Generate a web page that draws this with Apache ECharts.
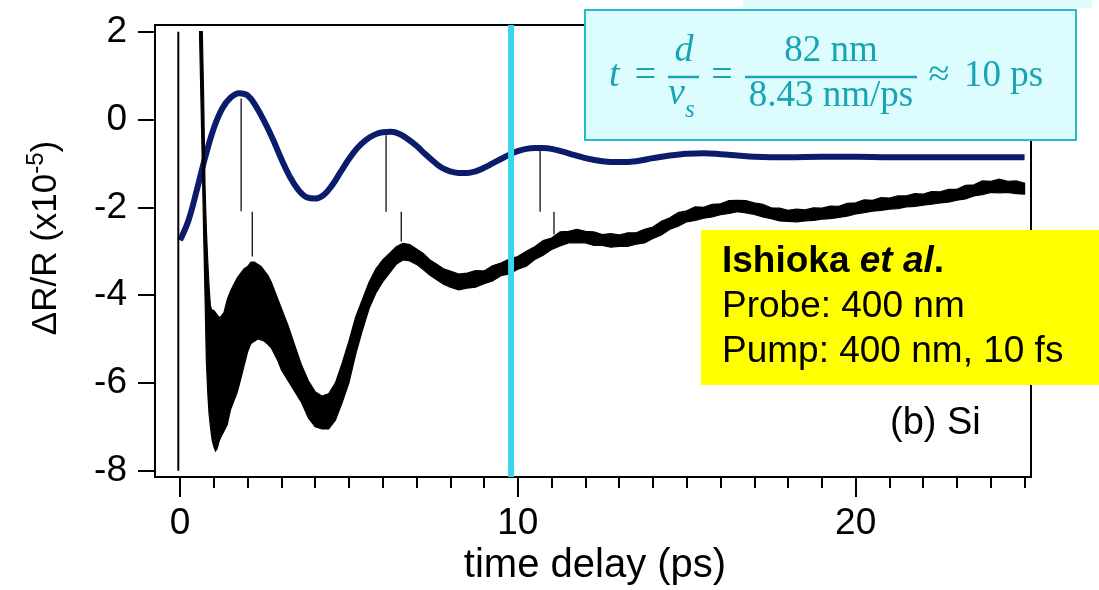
<!DOCTYPE html>
<html><head><meta charset="utf-8">
<script src="https://cdn.jsdelivr.net/npm/echarts@6/dist/echarts.min.js"></script>
<style>html,body{margin:0;padding:0;background:#fff}#c{width:1099px;height:590px}</style>
</head><body><div id="c"></div>
<script>
// ---------- data ----------
const xRange = [-0.74, 25.19];
const yRange = [-8.144, 2.153];
const xMajorTicks = [0, 10, 20];
const xMinorTicks = [1,2,3,4,5,6,7,8,9,11,12,13,14,15,16,17,18,19,21,22,23,24,25];
const yTicks = [-8, -6, -4, -2, 0, 2];

// blue (model) curve
const blueT = [0,0.25,0.5,0.75,1.0,1.25,1.5,1.75,2.0,2.25,2.5,2.75,3.0,3.25,3.5,3.75,4.0,4.25,4.5,4.75,5.0,5.25,5.5,5.75,6.0,6.25,6.5,6.75,7.0,7.25,7.5,7.75,8.0,8.25,8.5,8.75,9.0,9.25,9.5,9.75,10.0,10.25,10.5,10.75,11.0,11.5,12.0,12.5,13.0,13.5,14.0,14.5,15.0,15.5,16.0,16.5,17.0,17.5,18.0,19.0,20.0,21.0,22.0,23.0,24.0,25.0];
const blueV = [-2.75,-2.3,-1.6,-0.85,-0.2,0.25,0.5,0.6,0.55,0.3,-0.05,-0.45,-0.9,-1.3,-1.6,-1.77,-1.8,-1.72,-1.5,-1.2,-0.9,-0.65,-0.47,-0.35,-0.29,-0.28,-0.33,-0.45,-0.6,-0.78,-0.95,-1.1,-1.18,-1.22,-1.22,-1.18,-1.1,-1.0,-0.9,-0.8,-0.72,-0.67,-0.65,-0.65,-0.67,-0.77,-0.88,-0.95,-0.97,-0.95,-0.88,-0.82,-0.78,-0.77,-0.79,-0.82,-0.85,-0.86,-0.86,-0.85,-0.85,-0.86,-0.86,-0.86,-0.86,-0.86];

// black (measured) trace: upper / lower envelope of the noisy signal
const blackT  = [0.58,0.66,0.70,0.74,0.78,0.82,0.86,0.90,0.95,1.00,1.05,1.10,1.15,1.20,1.30,1.40,1.50,1.60,1.70,1.80,1.90,2.00,2.10,2.20,2.30,2.40,2.50,2.60,2.70,2.80,2.90,3.00,3.20,3.40,3.60,3.80,4.00,4.20,4.40,4.60,4.80,5.00,5.20,5.40,5.60,5.80,6.00,6.20,6.40,6.60,6.80,7.00,7.20,7.40,7.60,7.80,8.00,
  8.25,8.5,8.75,9.0,9.25,9.5,9.75,10.0,10.25,10.5,10.75,11.0,11.25,11.5,11.75,12.0,12.25,12.5,12.75,13.0,13.25,13.5,13.75,14.0,14.25,14.5,14.75,15.0,15.25,15.5,15.75,16.0,16.25,16.5,16.75,17.0,17.25,17.5,17.75,18.0,18.25,18.5,18.75,19.0,19.25,19.5,19.75,20.0,20.25,20.5,20.75,21.0,21.25,21.5,21.75,22.0,22.25,22.5,22.75,23.0,23.25,23.5,23.75,24.0,24.25,24.5,24.75,25.0];
const blackHi = [2.0,2.0,0.5,-1.5,-2.5,-3.2,-3.8,-4.25,-4.35,-4.35,-4.4,-4.45,-4.5,-4.5,-4.4,-4.1,-3.9,-3.75,-3.6,-3.5,-3.4,-3.35,-3.25,-3.25,-3.3,-3.35,-3.45,-3.55,-3.7,-3.9,-4.1,-4.3,-4.7,-5.15,-5.6,-5.95,-6.2,-6.3,-6.25,-6.0,-5.55,-5.05,-4.5,-4.1,-3.7,-3.4,-3.2,-3.05,-2.9,-2.82,-2.85,-2.95,-3.05,-3.2,-3.3,-3.4,-3.45,
  -3.52,-3.50,-3.44,-3.45,-3.33,-3.27,-3.18,-3.12,-3.00,-2.90,-2.76,-2.70,-2.56,-2.55,-2.50,-2.55,-2.56,-2.62,-2.60,-2.63,-2.58,-2.58,-2.50,-2.45,-2.32,-2.24,-2.12,-2.08,-1.99,-2.00,-1.93,-1.92,-1.85,-1.84,-1.85,-1.90,-1.93,-2.01,-2.02,-2.07,-2.04,-2.06,-2.01,-2.02,-1.97,-1.98,-1.91,-1.90,-1.83,-1.84,-1.78,-1.79,-1.74,-1.74,-1.69,-1.70,-1.64,-1.65,-1.59,-1.59,-1.50,-1.49,-1.40,-1.41,-1.36,-1.41,-1.40,-1.45];
const blackLo = [1.9,-1.0,-2.6,-4.0,-5.5,-6.2,-6.7,-7.0,-7.3,-7.45,-7.55,-7.5,-7.35,-7.25,-7.1,-6.95,-6.6,-6.4,-6.2,-5.9,-5.6,-5.3,-5.1,-5.05,-5.0,-5.02,-5.05,-5.12,-5.2,-5.35,-5.5,-5.7,-5.95,-6.2,-6.45,-6.8,-7.0,-7.05,-7.05,-6.85,-6.45,-6.0,-5.35,-4.8,-4.3,-3.95,-3.7,-3.5,-3.3,-3.2,-3.22,-3.3,-3.42,-3.55,-3.65,-3.75,-3.82,
  -3.88,-3.84,-3.82,-3.74,-3.68,-3.56,-3.52,-3.41,-3.34,-3.19,-3.09,-2.96,-2.88,-2.81,-2.81,-2.81,-2.87,-2.87,-2.91,-2.89,-2.89,-2.84,-2.81,-2.71,-2.63,-2.50,-2.43,-2.33,-2.30,-2.25,-2.22,-2.17,-2.14,-2.10,-2.13,-2.16,-2.22,-2.26,-2.31,-2.32,-2.33,-2.31,-2.30,-2.27,-2.26,-2.23,-2.20,-2.15,-2.12,-2.09,-2.07,-2.04,-2.03,-1.99,-1.98,-1.95,-1.93,-1.90,-1.88,-1.84,-1.81,-1.74,-1.71,-1.66,-1.67,-1.66,-1.69,-1.70];

// vertical guide sticks at the oscillation maxima
const blueMarkX = [1.81, 6.1, 10.66];
const blueMarkTop = [0.48, -0.36, -0.72];
const blueMarkBottom = [-2.09, -2.1, -2.1];
const blackMarkX = [2.14, 6.55, 11.07];
const blackMarkTop = [-2.1, -2.1, -2.1];
const blackMarkBottom = [-3.12, -2.78, -2.62];

// time-zero line and the 10 ps marker
const zeroLineX = [-0.05];
const zeroLineTop = [2.0];
const zeroLineBottom = [-8.0];
const cyanX = [9.8];

// ---------- chart ----------
const chart = echarts.init(document.getElementById('c'), null, {renderer: 'canvas'});
const FONT = 'Liberation Sans, Arial, sans-serif';
const SERIF = 'Liberation Serif, Times New Roman, serif';
const TEAL = '#17a5b5';

function vsegSeries(xs, tops, bottoms, color, width, z) {
  return {
    type: 'custom', z: z, silent: true, clip: true,
    xAxisIndex: 0, yAxisIndex: 0,
    data: xs.map((x, i) => [x, tops[i], bottoms[i]]),
    encode: {x: 0, y: [1, 2]},
    renderItem: function (params, api) {
      const p0 = api.coord([api.value(0), api.value(1)]);
      const p1 = api.coord([api.value(0), api.value(2)]);
      return {type: 'line', shape: {x1: p0[0], y1: p0[1], x2: p1[0], y2: p1[1]},
              style: {stroke: color, lineWidth: width}};
    }
  };
}
function txt(x, y, text, size, opts) {
  opts = opts || {};
  return {type: 'text', x: x, y: y, z: 101, rotation: opts.rotation || 0,
    style: Object.assign({text: text, fontSize: size, fontFamily: opts.family || FONT, fill: opts.fill || '#000',
      fontStyle: opts.italic ? 'italic' : 'normal',
      align: opts.align || 'left', verticalAlign: 'middle',
      textAlign: opts.align || 'left', textVerticalAlign: 'middle'}, opts.extra || {})};
}

const option = {
  animation: false,
  backgroundColor: '#fff',
  grid: {left: 155, top: 25, width: 876, height: 452, containLabel: false,
         show: true, borderColor: '#000', borderWidth: 2, backgroundColor: 'transparent'},
  xAxis: [{
    type: 'value', min: xRange[0], max: xRange[1], position: 'bottom',
    axisLine: {show: true, onZero: false, lineStyle: {color: '#000', width: 2}},
    axisTick: {show: true, customValues: xMajorTicks, length: 20, lineStyle: {color: '#000', width: 2}},
    axisLabel: {show: true, customValues: xMajorTicks, margin: 28, fontSize: 37, fontFamily: FONT, color: '#000'},
    splitLine: {show: false}
  }, {
    type: 'value', min: xRange[0], max: xRange[1], position: 'bottom',
    axisLine: {show: false, onZero: false},
    axisTick: {show: true, customValues: xMinorTicks, length: 11, lineStyle: {color: '#000', width: 2}},
    axisLabel: {show: false},
    splitLine: {show: false}
  }],
  yAxis: [{
    type: 'value', min: yRange[0], max: yRange[1], position: 'left',
    axisLine: {show: true, onZero: false, lineStyle: {color: '#000', width: 2}},
    axisTick: {show: true, customValues: yTicks, length: 17, lineStyle: {color: '#000', width: 2}},
    axisLabel: {show: true, customValues: yTicks, margin: 28, fontSize: 37, fontFamily: FONT, color: '#000'},
    splitLine: {show: false}
  }],
  series: [
    vsegSeries(blueMarkX, blueMarkTop, blueMarkBottom, '#222', 1.4, 1),
    vsegSeries(blackMarkX, blackMarkTop, blackMarkBottom, '#222', 1.4, 1),
    {
      type: 'line', z: 2, xAxisIndex: 0, yAxisIndex: 0, smooth: 0.4, showSymbol: false, silent: true,
      data: blueT.map((t, i) => [t, blueV[i]]),
      lineStyle: {color: '#0b1c6c', width: 6}
    },
    {
      type: 'custom', z: 3, silent: true, clip: true, xAxisIndex: 0, yAxisIndex: 0,
      data: [[blackT[0], blackHi[0]]],
      encode: {x: 0, y: 1},
      renderItem: function (params, api) {
        const pts = [];
        for (let i = 0; i < blackT.length; i++) pts.push(api.coord([blackT[i], blackHi[i]]));
        for (let i = blackT.length - 1; i >= 0; i--) pts.push(api.coord([blackT[i], blackLo[i]]));
        return {type: 'polygon', shape: {points: pts},
                style: {fill: '#000', stroke: '#000', lineWidth: 1.2, lineJoin: 'miter'}};
      }
    },
    vsegSeries(zeroLineX, zeroLineTop, zeroLineBottom, '#000', 2, 3),
    vsegSeries(cyanX, [yRange[1]], [yRange[0]], '#38d6e8', 6, 4)
  ],
  graphic: [
    // y-axis title
    {type: 'text', x: 44, y: 238, rotation: Math.PI / 2, z: 100,
     style: {text: '{m|ΔR/R (x10}{s|-5}{m|)}', align: 'center', verticalAlign: 'middle',
             textAlign: 'center', textVerticalAlign: 'middle',
             rich: {m: {fontSize: 35, fontFamily: FONT, fill: '#000', lineHeight: 40, verticalAlign: 'bottom'},
                    s: {fontSize: 24, fontFamily: FONT, fill: '#000', lineHeight: 40, verticalAlign: 'top'}}}},
    txt(595, 566, 'time delay (ps)', 40, {align: 'center'}),
    txt(890, 424, '(b) Si', 38),
    // yellow box
    {type: 'rect', z: 100, shape: {x: 701, y: 230, width: 398, height: 155}, style: {fill: '#ffff00'}},
    {type: 'text', x: 722, y: 262, z: 101,
     style: {text: '{b|Ishioka }{bi|et al}{b|.}', align: 'left', verticalAlign: 'middle',
             textAlign: 'left', textVerticalAlign: 'middle',
             rich: {b: {fontSize: 37, fontFamily: FONT, fontWeight: 'bold', fill: '#000'},
                    bi: {fontSize: 37, fontFamily: FONT, fontWeight: 'bold', fontStyle: 'italic', fill: '#000'}}}},
    txt(722, 307, 'Probe: 400 nm', 37),
    txt(722, 352, 'Pump: 400 nm, 10 fs', 37),
    // equation box
    {type: 'rect', z: 100, shape: {x: 743, y: 0, width: 349, height: 8}, style: {fill: '#e0fbfc'}},
    {type: 'rect', z: 100, shape: {x: 585, y: 10, width: 491, height: 130},
     style: {fill: '#dcfcfd', stroke: '#22bccc', lineWidth: 2}},
    txt(609, 76, 't', 38, {family: SERIF, italic: true, fill: TEAL}),
    txt(645.5, 76, '=', 38, {family: SERIF, fill: TEAL, align: 'center'}),
    txt(684, 51, 'd', 38, {family: SERIF, italic: true, fill: TEAL, align: 'center'}),
    {type: 'line', z: 101, shape: {x1: 668, y1: 77, x2: 699, y2: 77}, style: {stroke: TEAL, lineWidth: 2.5}},
    txt(668, 94, 'v', 38, {family: SERIF, italic: true, fill: TEAL}),
    txt(685, 110, 's', 25, {family: SERIF, italic: true, fill: TEAL}),
    txt(722, 76, '=', 38, {family: SERIF, fill: TEAL, align: 'center'}),
    txt(831, 51, '82 nm', 37, {family: SERIF, fill: TEAL, align: 'center'}),
    {type: 'line', z: 101, shape: {x1: 745, y1: 77, x2: 917, y2: 77}, style: {stroke: TEAL, lineWidth: 2.5}},
    txt(831, 96, '8.43 nm/ps', 37, {family: SERIF, fill: TEAL, align: 'center'}),
    txt(939, 76, '≈', 38, {family: SERIF, fill: TEAL, align: 'center'}),
    txt(964, 76, '10 ps', 37, {family: SERIF, fill: TEAL})
  ]
};
chart.setOption(option);
</script>
</body></html>
